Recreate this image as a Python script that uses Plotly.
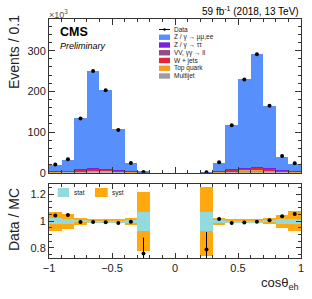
import numpy as np
import plotly.graph_objects as go

# ---- data (values in units of 10^3 events) ----
bin_centers = [-0.95, -0.85, -0.75, -0.65, -0.55, -0.45, -0.35, -0.25, -0.15, -0.05,
               0.05, 0.15, 0.25, 0.35, 0.45, 0.55, 0.65, 0.75, 0.85, 0.95]
data_vals = [20, 33, 133, 250, 203, 105, 24, 1.5, None, None,
             None, None, 1.0, 25.5, 116.5, 229, 291, 164.6, 41, 23]
multijet = [1.5, 2.0, 3.5, 4.5, 4.0, 3.0, 1.5, 0.3, 0, 0, 0, 0, 0.2, 1.5, 3.5, 5.0, 5.5, 4.5, 2.5, 1.5]
top_quark = [0.3, 0.4, 0.6, 0.8, 0.7, 0.5, 0.3, 0.05, 0, 0, 0, 0, 0.05, 0.3, 0.6, 0.8, 0.9, 0.7, 0.4, 0.3]
w_jets = [1.5, 2.0, 3.5, 4.0, 3.5, 2.5, 1.5, 0.2, 0, 0, 0, 0, 0.2, 1.5, 3.0, 5.0, 6.0, 4.5, 2.0, 1.5]
vv_ll = [0.2, 0.2, 0.4, 0.5, 0.4, 0.3, 0.2, 0.02, 0, 0, 0, 0, 0.02, 0.2, 0.4, 0.5, 0.6, 0.4, 0.2, 0.2]
z_tautau = [0.3, 0.3, 0.6, 0.8, 0.7, 0.5, 0.3, 0.05, 0, 0, 0, 0, 0.05, 0.3, 0.6, 0.8, 0.9, 0.6, 0.3, 0.3]
z_mumuee = [15.4, 26.6, 125.1, 240.7, 195.3, 99.6, 20.3, 1.38, 0, 0, 0, 0, 0.75, 21.2, 109.9, 219.2, 278.0, 152.6, 34.1, 18.0]

ratio_vals = [1.043, 1.048, 0.995, 0.995, 0.992, 0.987, 0.997, 0.758, None, None,
              None, None, 0.789, 1.018, 0.987, 0.99, 0.997, 1.008, 1.038, 1.055]
ratio_errs = [0.004, 0.004, 0.002, 0.002, 0.002, 0.002, 0.004, 0.12, 0, 0,
              0, 0, 0.13, 0.004, 0.002, 0.002, 0.002, 0.002, 0.004, 0.004]
syst_err = [0.073, 0.057, 0.025, 0.015, 0.015, 0.015, 0.027, 0.222, None, None,
            None, None, 0.26, 0.027, 0.015, 0.015, 0.015, 0.023, 0.05, 0.075]
stat_err = [0.022, 0.018, 0.008, 0.005, 0.005, 0.006, 0.01, 0.07, None, None,
            None, None, 0.072, 0.01, 0.005, 0.005, 0.005, 0.008, 0.016, 0.02]

yticks_top = [0, 100, 200, 300]
yticks_ratio = [0.8, 1, 1.2]
xticks = [-1, -0.5, 0, 0.5, 1]
xtick_text = ["\u22121", "\u22120.5", "0", "0.5", "1"]

C_ZLL = "#5790fc"
C_ZTT = "#7a21dd"
C_VV = "#964a8b"
C_WJ = "#e42536"
C_TOP = "#f89c20"
C_MJ = "#9c9ca1"
C_STAT = "#92dadd"
C_SYST = "#ffa90e"

FONT = "Liberation Sans"
TXT = "#222222"

fig = go.Figure()

# stacked histogram (bottom -> top)
stack = [("Multijet", multijet, C_MJ), ("Top quark", top_quark, C_TOP),
         ("W + jets", w_jets, C_WJ), ("VV, \u03b3\u03b3 \u2192 ll", vv_ll, C_VV),
         ("Z / \u03b3 \u2192 \u03c4\u03c4", z_tautau, C_ZTT),
         ("Z / \u03b3 \u2192 \u03bc\u03bc,ee", z_mumuee, C_ZLL)]
base = np.zeros(len(bin_centers))
for name, vals, col in stack:
    v = np.array(vals, dtype=float)
    fig.add_trace(go.Bar(x=bin_centers, y=v, base=base.copy(), width=0.1,
                         marker=dict(color=col, line=dict(width=0)),
                         name=name, showlegend=False, xaxis="x", yaxis="y"))
    base = base + v

fig.add_trace(go.Scatter(x=bin_centers, y=data_vals, mode="markers",
                         marker=dict(color="black", size=4), showlegend=False,
                         xaxis="x", yaxis="y"))

# ratio panel bands
def band(err, color):
    e = np.array([np.nan if v is None else v for v in err], dtype=float)
    return go.Bar(x=bin_centers, y=2 * e, base=1 - e, width=0.1,
                  marker=dict(color=color, line=dict(width=0)),
                  showlegend=False, xaxis="x2", yaxis="y2")

fig.add_trace(band(syst_err, C_SYST))
fig.add_trace(band(stat_err, C_STAT))
fig.add_trace(go.Scatter(x=bin_centers, y=ratio_vals, mode="markers",
                         marker=dict(color="black", size=4),
                         error_y=dict(type="data", array=ratio_errs, color="black",
                                      thickness=1, width=0),
                         showlegend=False, xaxis="x2", yaxis="y2"))

axis_common = dict(showline=True, linecolor="#333333", linewidth=1, mirror="ticks",
                   ticks="inside", tickcolor="#333333", showgrid=False, zeroline=False,
                   tickfont=dict(family=FONT, size=11, color=TXT))

fig.update_layout(
    width=312, height=299,
    margin=dict(l=49, r=11, t=19, b=41, autoexpand=False),
    paper_bgcolor="white", plot_bgcolor="white",
    barmode="overlay", bargap=0,
    showlegend=False,
    xaxis=dict(domain=[0, 1], range=[-1, 1], anchor="y", tickvals=xticks,
               showticklabels=False, ticklen=6,
               minor=dict(dtick=0.1, tick0=0, ticks="inside", ticklen=3, tickcolor="#333333"),
               **axis_common),
    yaxis=dict(domain=[0.357, 1], range=[0, 378], anchor="x", tickvals=yticks_top,
               ticklen=6,
               minor=dict(dtick=20, tick0=0, ticks="inside", ticklen=3, tickcolor="#333333"),
               **axis_common),
    xaxis2=dict(domain=[0, 1], range=[-1, 1], anchor="y2", tickvals=xticks,
                ticktext=xtick_text, ticklen=5, matches="x",
                minor=dict(dtick=0.1, tick0=0, ticks="inside", ticklen=3, tickcolor="#333333"),
                **axis_common),
    yaxis2=dict(domain=[0, 0.31], range=[0.725, 1.28], anchor="x2", tickvals=yticks_ratio,
                ticktext=["0.8", "1", "1.2"], ticklen=5,
                minor=dict(dtick=0.05, tick0=0, ticks="inside", ticklen=3, tickcolor="#333333"),
                **axis_common),
)

# plot-area bounds in page pixels (used for decorations in paper coords)
L, R, T, B = 49, 301, 19, 258
W, H = R - L, B - T


def px(x):
    return (x - L) / W


def py(y):
    return 1 - (y - T) / H


ann = []
shapes = []

ann.append(dict(text="Events / 0.1", x=px(14), y=py(52), xref="paper", yref="paper",
                textangle=-90, showarrow=False, xanchor="center", yanchor="middle",
                font=dict(family=FONT, size=14, color=TXT)))
ann.append(dict(text="Data / MC", x=px(14), y=py(220), xref="paper", yref="paper",
                textangle=-90, showarrow=False, xanchor="center", yanchor="middle",
                font=dict(family=FONT, size=14, color=TXT)))
ann.append(dict(text="cos\u03b8<sub>eh</sub>", x=px(301), y=py(283), xref="paper", yref="paper",
                showarrow=False, xanchor="right", yanchor="middle",
                font=dict(family=FONT, size=13, color=TXT)))
ann.append(dict(text="\u00d710<sup>3</sup>", x=px(47), y=py(14), xref="paper", yref="paper",
                showarrow=False, xanchor="left", yanchor="middle",
                font=dict(family=FONT, size=9, color="#555555")))
ann.append(dict(text="59 fb<sup>-1</sup> (2018, 13 TeV)", x=px(301), y=py(11), xref="paper",
                yref="paper", showarrow=False, xanchor="right", yanchor="middle",
                font=dict(family=FONT, size=10, color="black")))
ann.append(dict(text="<b>CMS</b>", x=px(58), y=py(32), xref="paper", yref="paper",
                showarrow=False, xanchor="left", yanchor="middle",
                font=dict(family=FONT, size=12.5, color="black")))
ann.append(dict(text="<i>Preliminary</i>", x=px(58), y=py(46), xref="paper", yref="paper",
                showarrow=False, xanchor="left", yanchor="middle",
                font=dict(family=FONT, size=9, color="black")))

# legend (top panel)
legend_items = [("Data", None), ("Z / \u03b3 \u2192 \u03bc\u03bc,ee", C_ZLL),
                ("Z / \u03b3 \u2192 \u03c4\u03c4", C_ZTT), ("VV, \u03b3\u03b3 \u2192 ll", C_VV),
                ("W + jets", C_WJ), ("Top quark", C_TOP), ("Multijet", C_MJ)]
for i, (lab, col) in enumerate(legend_items):
    yc = 29.5 + 7.75 * i
    if col is None:
        shapes.append(dict(type="line", xref="paper", yref="paper", x0=px(159), x1=px(170),
                           y0=py(yc), y1=py(yc), line=dict(color="black", width=1)))
        shapes.append(dict(type="circle", xref="paper", yref="paper", x0=px(163.3), x1=px(165.7),
                           y0=py(yc + 1.2), y1=py(yc - 1.2), fillcolor="black",
                           line=dict(width=0)))
    else:
        shapes.append(dict(type="rect", xref="paper", yref="paper", x0=px(159), x1=px(170),
                           y0=py(yc + 2.7), y1=py(yc - 2.7), fillcolor=col,
                           line=dict(width=0)))
    ann.append(dict(text=lab, x=px(171.5), y=py(yc), xref="paper", yref="paper",
                    showarrow=False, xanchor="left", yanchor="middle",
                    font=dict(family=FONT, size=6.5, color=TXT)))

# legend (ratio panel)
for x0, x1, col, lab in [(57.7, 69, C_STAT, "stat"), (95, 107.7, C_SYST, "syst")]:
    shapes.append(dict(type="rect", xref="paper", yref="paper", x0=px(x0), x1=px(x1),
                       y0=py(197), y1=py(188), fillcolor=col, line=dict(width=0)))
    ann.append(dict(text=lab, x=px(x1 + 2.5), y=py(192.5), xref="paper", yref="paper",
                    showarrow=False, xanchor="left", yanchor="middle",
                    font=dict(family=FONT, size=6.5, color=TXT)))

fig.update_layout(annotations=ann, shapes=shapes)

# remove the default page margin so the 312x299 figure fills the window
fig.write_html("out.html", config={"displayModeBar": False},
               post_script="document.body.style.margin='0';document.body.style.padding='0';")
